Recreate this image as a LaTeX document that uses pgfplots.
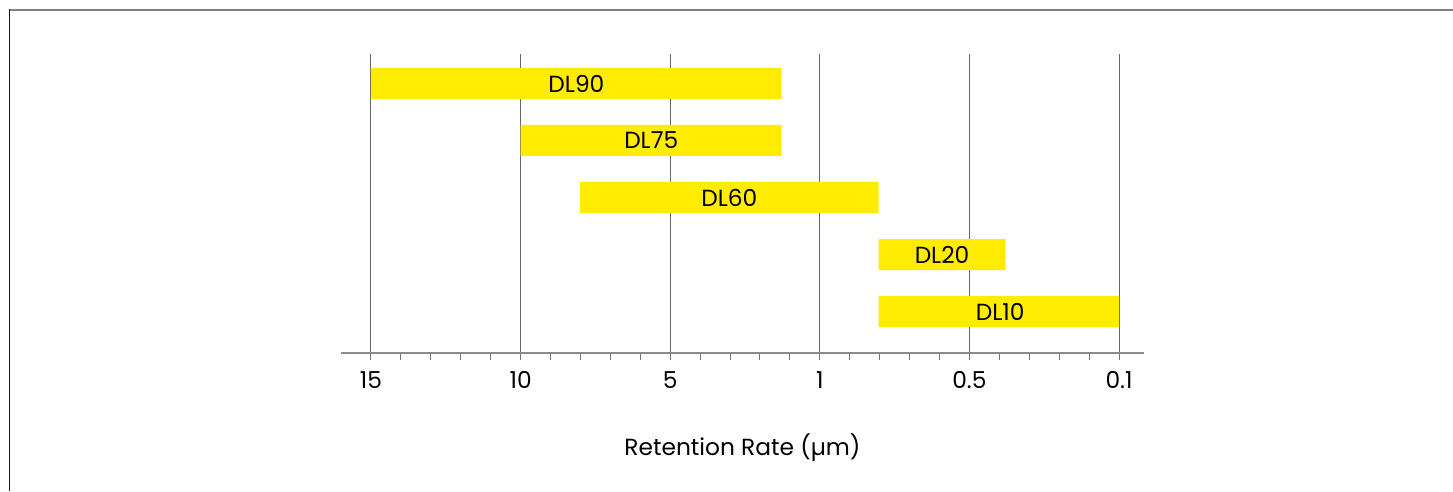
\documentclass[border=0pt]{standalone}
\usepackage{fontspec}
\setmainfont{Poppins}
\usepackage{pgfplots}
\pgfplotsset{compat=1.18}
\definecolor{baryellow}{HTML}{FFEC00}
\begin{document}
\begin{tikzpicture}[x=1bp,y=1bp]
\useasboundingbox (0,0) rectangle (726.5,245.5);
\draw[color=black!50, line width=1bp] (4.3,240.3) -- (726.5,240.3);
\draw[color=black!90, line width=0.9bp] (4.75,240.8) -- (4.75,0);
\begin{axis}[
  at={(170.5bp,69bp)}, anchor=south west, scale only axis,
  width=401.5bp, height=149.5bp,
  xmin=-0.2004, xmax=5.167, ymin=0, ymax=299,
  axis y line=none, axis x line*=bottom,
  x axis line style={color=black!45, line width=0.6bp},
  xtick={0,1,2,3,4,5}, xticklabels={15,10,5,1,0.5,0.1},
  minor x tick num=4,
  xmajorgrids, major grid style={color=black!60, line width=0.5bp},
  tick align=outside, major tick length=3.5bp, minor tick length=3.5bp,
  every tick/.style={color=black!55, line width=0.5bp},
  ytick=\empty,
  font=\fontsize{11.7}{14}\selectfont,
  /pgf/number format/assume math mode=true,
  xticklabel style={anchor=base, yshift=-14bp, font=\fontsize{11.7}{14}\selectfont},
  xlabel={Retention Rate (µm)},
  xlabel style={at={(axis description cs:0.5,0)}, anchor=base, yshift=-51bp, font=\fontsize{11.7}{14}\selectfont},
  clip=false,
]
% bars: rectangles (x from, x to, y from, y to)
\addplot[fill=baryellow, draw=none] coordinates {(0,254) (2.7455,254) (2.7455,285) (0,285) (0,254)};
\addplot[fill=baryellow, draw=none] coordinates {(1,197) (2.7455,197) (2.7455,228) (1,228) (1,197)};
\addplot[fill=baryellow, draw=none] coordinates {(1.396,140) (3.393,140) (3.393,171) (1.396,171) (1.396,140)};
\addplot[fill=baryellow, draw=none] coordinates {(3.393,83) (4.242,83) (4.242,114) (3.393,114) (3.393,83)};
\addplot[fill=baryellow, draw=none] coordinates {(3.393,26) (5,26) (5,57) (3.393,57) (3.393,26)};
% labels
\addplot[only marks, mark=none, nodes near coords, point meta=explicit symbolic,
  nodes near coords style={anchor=center, inner sep=0pt, font=\fontsize{11.7}{14}\selectfont, text=black}]
  table[meta=lab] {
x y lab
1.373 269.5 DL90
1.873 212.5 DL75
2.395 155.5 DL60
3.817 98.5 DL20
4.205 41.5 DL10
};
\end{axis}
\end{tikzpicture}
\end{document}
